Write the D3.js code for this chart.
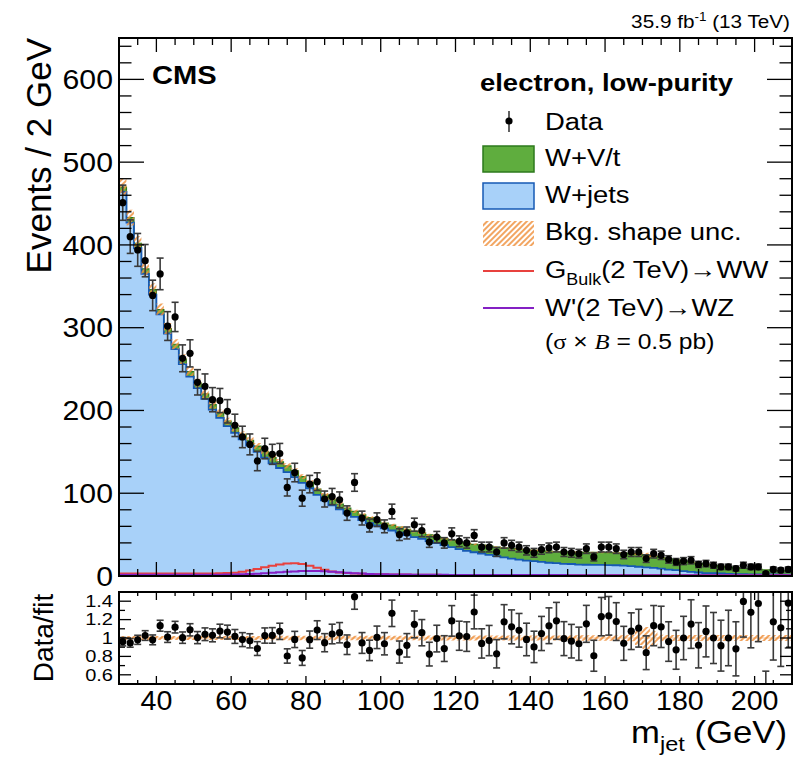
<!DOCTYPE html>
<html>
<head>
<meta charset="utf-8">
<script src="https://cdn.jsdelivr.net/npm/d3@7"></script>
<style>
  body { margin: 0; background: #fff; }
  svg text { font-family: "Liberation Sans", Arial, Helvetica, sans-serif; fill: #000; }
</style>
</head>
<body>
<svg id="chart" width="798" height="766"></svg>
<script>
// ---- binning: m_jet from 30 to 210 GeV in 2 GeV bins ----
const binEdges = d3.range(30, 211, 2);          // 91 edges, 90 bins
const binCenters = binEdges.slice(0, -1).map(e => e + 1);

// ---- observed events per bin ----
const dataCounts = [
  451, 410, 394, 381, 339, 365, 302, 313, 263, 269,
  234, 229, 213, 212, 199, 182, 168, 159, 139, 154,
  147, 148, 107, 125, 94, 111, 114, 93, 96, 92,
  76, 113, 70, 61, 68, 60, 78, 50, 52, 62,
  55, 41, 47, 40, 51, 42, 40, 49, 35, 35,
  29, 40, 37, 35, 31, 28, 32, 34, 35, 29,
  28, 27, 33, 23, 35, 35, 33, 26, 29, 29,
  21, 27, 25, 20, 17, 18, 19, 14, 15, 13,
  11, 11, 9, 13, 11, 11, 3, 8, 7, 8
];

// ---- W+jets background ----
const wJets = [
  464, 427, 396, 365, 340, 316, 293, 274, 256, 241,
  227, 214, 201, 191, 181, 173, 165, 157.5, 150, 143,
  136, 130.5, 125.5, 119.5, 112.5, 106, 98, 91.5, 85.5, 80.5,
  75.5, 71.5, 67.5, 64, 61, 57.5, 55, 52.5, 49.5, 47,
  45, 42.2, 39.8, 37.2, 35, 32.5, 30.4, 28.7, 27.2, 25.5,
  24, 22.5, 21, 19.8, 18.5, 18, 17, 16, 15.5, 14.7,
  14.5, 13.8, 13.6, 13.5, 13.4, 13.2, 13, 12.6, 12, 11.2,
  10.5, 9.8, 8.8, 7.8, 7, 6, 5, 4.2, 3.5, 3.5,
  3, 2.5, 2.2, 2.1, 2, 2, 1.9, 1.8, 1.7, 1.5
];

// ---- W+V/t background (stacked on W+jets) ----
const wVt = [
  6, 6, 6, 6, 6, 6, 6, 6, 6, 6,
  6, 6, 6, 6, 6, 6, 6, 6.5, 7, 7,
  7, 7.5, 7.5, 7.5, 7.5, 7, 7, 6.5, 6.5, 6.5,
  6.5, 6.5, 6.5, 6.5, 6.5, 6.5, 6.5, 6.5, 7, 7,
  7, 7.5, 7.5, 8, 8, 8.5, 9, 9.5, 10, 10.5,
  11, 11.5, 12, 12.5, 13, 13, 13.5, 14, 14, 14.5,
  14.5, 15, 15, 15, 15, 15, 15, 15, 15, 15,
  14.5, 14, 13.5, 13, 12.5, 12, 11.5, 11, 10.5, 9.5,
  9, 8.5, 8, 7.2, 6.6, 6, 5.5, 5, 4.6, 4.3
];

// ---- relative background shape uncertainty ----
const bkgUnc = [
  0.022, 0.022, 0.022, 0.022, 0.022, 0.022, 0.022, 0.022, 0.022, 0.022,
  0.023, 0.023, 0.023, 0.023, 0.023, 0.023, 0.023, 0.023, 0.023, 0.023,
  0.024, 0.024, 0.024, 0.024, 0.024, 0.024, 0.024, 0.024, 0.024, 0.024,
  0.025, 0.025, 0.025, 0.025, 0.025, 0.025, 0.025, 0.025, 0.025, 0.025,
  0.027, 0.027, 0.027, 0.027, 0.027, 0.027, 0.027, 0.027, 0.027, 0.027,
  0.028, 0.028, 0.028, 0.028, 0.028, 0.028, 0.028, 0.028, 0.028, 0.028,
  0.03, 0.03, 0.03, 0.03, 0.03, 0.03, 0.03, 0.03, 0.035, 0.075,
  0.12, 0.075, 0.035, 0.032, 0.032, 0.032, 0.032, 0.032, 0.032, 0.032,
  0.032, 0.032, 0.032, 0.032, 0.032, 0.032, 0.032, 0.032, 0.032, 0.032
];

// ---- signal templates (sigma x B = 0.5 pb) ----
const gBulkWW = [
  3, 3, 3, 3, 3, 3, 3, 3, 3, 3,
  3, 3, 3, 3.2, 3.5, 4, 5, 6.5, 8.5, 10.5,
  12.5, 14, 15.2, 15.5, 14.5, 12.5, 10, 7.5, 5.5, 4.2,
  3.5, 3, 2.6, 2.3, 2.1, 2, 1.9, 1.8, 1.7, 1.6,
  1.5, 1.4, 1.4, 1.3, 1.3, 1.2, 1.2, 1.2, 1.1, 1.1,
  1.1, 1.1, 1, 1, 1, 1, 1, 1, 1, 1,
  0.9, 0.9, 0.9, 0.9, 0.9, 0.9, 0.9, 0.9, 0.9, 0.9,
  0.9, 0.9, 0.8, 0.8, 0.8, 0.8, 0.8, 0.8, 0.8, 0.8,
  0.8, 0.8, 0.8, 0.8, 0.8, 0.8, 0.8, 0.8, 0.8, 0.8
];
const wprimeWZ = [
  1.5, 1.5, 1.5, 1.5, 1.5, 1.5, 1.5, 1.5, 1.5, 1.5,
  1.5, 1.5, 1.5, 1.6, 1.7, 1.9, 2.1, 2.4, 2.8, 3.3,
  3.8, 4.4, 5, 5.5, 5.9, 6, 5.9, 5.6, 5.2, 4.6,
  4, 3.4, 2.9, 2.5, 2.2, 2, 1.9, 1.8, 1.7, 1.6,
  1.5, 1.5, 1.4, 1.4, 1.3, 1.3, 1.3, 1.2, 1.2, 1.2,
  1.1, 1.1, 1.1, 1.1, 1.1, 1.1, 1.1, 1.1, 1.1, 1.1,
  1, 1, 1, 1, 1, 1, 1, 1, 1, 1,
  1, 1, 1, 1, 0.9, 0.9, 0.9, 0.9, 0.9, 0.9,
  0.9, 0.9, 0.9, 0.9, 0.8, 0.8, 0.8, 0.8, 0.8, 0.8
];

// ---- axis ticks ----
const xTickLabels = [40, 60, 80, 100, 120, 140, 160, 180, 200];
const yTickLabels = [0, 100, 200, 300, 400, 500, 600];
const ratioTickLabels = [0.6, 0.8, 1, 1.2, 1.4];

// ---- derived per-bin quantities ----
const bins = binCenters.map((c, i) => {
  const total = wJets[i] + wVt[i];
  return {
    lo: binEdges[i], hi: binEdges[i + 1], c,
    n: dataCounts[i], wj: wJets[i], tot: total, unc: bkgUnc[i],
    g: gBulkWW[i], w: wprimeWZ[i],
    ratio: dataCounts[i] / total,
    ratioErr: Math.sqrt(dataCounts[i]) / total
  };
});
// step-curve helper: repeat last bin at the upper edge
const stepPts = bins.concat([Object.assign({}, bins[bins.length - 1], { lo: 210 })]);

// ---- layout ----
const SX = 1.12; // horizontal text scale
const svg = d3.select("#chart");
const L = 119, R = 792, mainTop = 38, mainBot = 576, ratTop = 592, ratBot = 684;

const x = d3.scaleLinear().domain([30, 210]).range([L, R]);
const y = d3.scaleLinear().domain([0, 650]).range([mainBot, mainTop]);
const yr = d3.scaleLinear().domain([0.5, 1.5]).range([ratBot, ratTop]);

const defs = svg.append("defs");
const hatch = defs.append("pattern").attr("id", "hatch")
  .attr("patternUnits", "userSpaceOnUse").attr("width", 4).attr("height", 4)
  .attr("patternTransform", "rotate(45)");
hatch.append("line").attr("x1", 1).attr("y1", 0).attr("x2", 1).attr("y2", 4)
  .attr("stroke", "#ef8f3a").attr("stroke-width", 1.6);
defs.append("clipPath").attr("id", "clipMain").append("rect")
  .attr("x", L).attr("y", mainTop).attr("width", R - L).attr("height", mainBot - mainTop);
defs.append("clipPath").attr("id", "clipRatio").append("rect")
  .attr("x", L).attr("y", ratTop).attr("width", R - L).attr("height", ratBot - ratTop);

function addText(g, px, py, size, anchor, weight, sx) {
  return g.append("text")
    .attr("transform", `translate(${px},${py}) scale(${sx || SX},1)`)
    .attr("font-size", size)
    .attr("text-anchor", anchor || "start")
    .attr("font-weight", weight || "normal");
}

// ================= main panel =================
const main = svg.append("g").attr("clip-path", "url(#clipMain)");

const areaWJ = d3.area().curve(d3.curveStepAfter)
  .x(d => x(d.lo)).y0(y(0)).y1(d => y(d.wj));
const areaTot = d3.area().curve(d3.curveStepAfter)
  .x(d => x(d.lo)).y0(d => y(d.wj)).y1(d => y(d.tot));
const lineWJ = d3.line().curve(d3.curveStepAfter).x(d => x(d.lo)).y(d => y(d.wj));
const lineTot = d3.line().curve(d3.curveStepAfter).x(d => x(d.lo)).y(d => y(d.tot));

main.append("path").attr("d", areaWJ(stepPts)).attr("fill", "#a8d1f9");
main.append("path").attr("d", areaTot(stepPts)).attr("fill", "#5fad3e");
main.append("path").attr("d", lineTot(stepPts)).attr("fill", "none")
  .attr("stroke", "#2d7a1c").attr("stroke-width", 1.2);
main.append("path").attr("d", lineWJ(stepPts)).attr("fill", "none")
  .attr("stroke", "#1659b4").attr("stroke-width", 1.8);

// background shape uncertainty band
const uncArea = d3.area().curve(d3.curveStepAfter)
  .x(d => x(d.lo)).y0(d => y(d.tot * (1 - d.unc))).y1(d => y(d.tot * (1 + d.unc)));
main.append("path").attr("d", uncArea(stepPts)).attr("fill", "url(#hatch)");

// signals
const sigLine = key => d3.line().curve(d3.curveStepAfter).x(d => x(d.lo)).y(d => y(d[key]));
main.append("path").attr("d", sigLine("g")(stepPts)).attr("fill", "none")
  .attr("stroke", "#e8413e").attr("stroke-width", 2);
main.append("path").attr("d", sigLine("w")(stepPts)).attr("fill", "none")
  .attr("stroke", "#8420c4").attr("stroke-width", 2);

// data points with Poisson errors
const dataG = main.append("g");
bins.forEach(d => {
  const e = Math.sqrt(d.n);
  const cx = x(d.c);
  dataG.append("line").attr("x1", cx).attr("x2", cx)
    .attr("y1", y(d.n + e)).attr("y2", y(Math.max(d.n - e, 0)))
    .attr("stroke", "#3a3a3a").attr("stroke-width", 1.6);
  [d.n + e, Math.max(d.n - e, 0)].forEach(v => {
    dataG.append("line").attr("x1", cx - 3.5).attr("x2", cx + 3.5)
      .attr("y1", y(v)).attr("y2", y(v))
      .attr("stroke", "#3a3a3a").attr("stroke-width", 1.6);
  });
  dataG.append("circle").attr("cx", cx).attr("cy", y(d.n)).attr("r", 3.6).attr("fill", "#000");
});

// ================= ratio panel =================
const rat = svg.append("g").attr("clip-path", "url(#clipRatio)");
const ratioBand = d3.area().curve(d3.curveStepAfter)
  .x(d => x(d.lo)).y0(d => yr(1 - d.unc)).y1(d => yr(1 + d.unc));
rat.append("path").attr("d", ratioBand(stepPts)).attr("fill", "url(#hatch)");
rat.append("line").attr("x1", L).attr("x2", R).attr("y1", yr(1)).attr("y2", yr(1))
  .attr("stroke", "#ef8f3a").attr("stroke-width", 0.8).attr("stroke-opacity", 0.7);

bins.forEach(d => {
  const cx = x(d.c);
  const hi = d.ratio + d.ratioErr, lo = d.ratio - d.ratioErr;
  rat.append("line").attr("x1", cx).attr("x2", cx)
    .attr("y1", yr(hi)).attr("y2", yr(lo))
    .attr("stroke", "#3a3a3a").attr("stroke-width", 1.6);
  [hi, lo].forEach(v => {
    rat.append("line").attr("x1", cx - 3.5).attr("x2", cx + 3.5)
      .attr("y1", yr(v)).attr("y2", yr(v))
      .attr("stroke", "#3a3a3a").attr("stroke-width", 1.6);
  });
  rat.append("circle").attr("cx", cx).attr("cy", yr(d.ratio)).attr("r", 3.6).attr("fill", "#000");
});

// ================= frames and ticks =================
const axes = svg.append("g").attr("stroke", "#000").attr("fill", "none");
function frame(top, bot) {
  axes.append("rect").attr("x", L).attr("y", top).attr("width", R - L).attr("height", bot - top)
    .attr("stroke-width", 2);
}
frame(mainTop, mainBot);
frame(ratTop, ratBot);

function xTicks(top, bot, majLen, minLen) {
  d3.range(30, 211, 5).forEach(v => {
    const major = v % 20 === 0;
    const len = major ? majLen : minLen;
    const px = x(v);
    axes.append("line").attr("x1", px).attr("x2", px).attr("y1", bot).attr("y2", bot - len).attr("stroke-width", 1.3);
    axes.append("line").attr("x1", px).attr("x2", px).attr("y1", top).attr("y2", top + len).attr("stroke-width", 1.3);
  });
}
xTicks(mainTop, mainBot, 14, 7);
xTicks(ratTop, ratBot, 8, 4);

function yTicks(scale, values, isMajor, majLen, minLen) {
  values.forEach(v => {
    const len = isMajor(v) ? majLen : minLen;
    const py = scale(v);
    axes.append("line").attr("x1", L).attr("x2", L + len).attr("y1", py).attr("y2", py).attr("stroke-width", 1.3);
    axes.append("line").attr("x1", R).attr("x2", R - len).attr("y1", py).attr("y2", py).attr("stroke-width", 1.3);
  });
}
yTicks(y, d3.range(0, 641, 20), v => v % 100 === 0, 25, 12.5);
yTicks(yr, d3.range(6, 15).map(v => v / 10), v => Math.round(v * 10) % 2 === 0, 12, 6);

// ================= labels =================
const txt = svg.append("g");
yTickLabels.forEach(v => addText(txt, 113, y(v) + 9.6, 27, "end").text(v));
ratioTickLabels.forEach(v => addText(txt, 113, yr(v) + 5.8, 16, "end", "normal", 1.25).text(v));
xTickLabels.forEach(v => addText(txt, x(v), 710, 27, "middle", "normal", 1.06).text(v));

txt.append("text").attr("transform", "translate(51,38) rotate(-90)")
  .attr("font-size", 35).attr("text-anchor", "end").text("Events / 2 GeV");
txt.append("text").attr("transform", `translate(53,${(ratTop + ratBot) / 2}) rotate(-90)`)
  .attr("font-size", 28).attr("text-anchor", "middle").text("Data/fit");

const xt = addText(txt, 787, 743, 31, "end");
xt.append("tspan").text("m");
xt.append("tspan").attr("font-size", 21).attr("dy", 8).text("jet");
xt.append("tspan").attr("dy", -8).text(" (GeV)");

const lumi = addText(txt, 790, 28, 18.5, "end");
lumi.append("tspan").text("35.9 fb");
lumi.append("tspan").attr("font-size", 12).attr("dy", -7).text("-1");
lumi.append("tspan").attr("dy", 7).text(" (13 TeV)");

addText(txt, 152, 84, 26, "start", "bold").text("CMS");

// ================= legend =================
const leg = svg.append("g");
addText(leg, 480, 91, 24.5, "start", "bold").text("electron, low-purity");

// Data
leg.append("line").attr("x1", 509).attr("x2", 509).attr("y1", 111).attr("y2", 132)
  .attr("stroke", "#3a3a3a").attr("stroke-width", 1.6);
leg.append("circle").attr("cx", 509).attr("cy", 121).attr("r", 3.6).attr("fill", "#000");
addText(leg, 545, 130, 24.5).text("Data");

// W+V/t
leg.append("rect").attr("x", 483).attr("y", 146).attr("width", 51).attr("height", 26)
  .attr("fill", "#5fad3e").attr("stroke", "#2d7a1c").attr("stroke-width", 1.5);
addText(leg, 545, 166, 24.5).text("W+V/t");

// W+jets
leg.append("rect").attr("x", 483).attr("y", 183).attr("width", 51).attr("height", 26)
  .attr("fill", "#a8d1f9").attr("stroke", "#1659b4").attr("stroke-width", 1.5);
addText(leg, 545, 203, 24.5).text("W+jets");

// uncertainty
leg.append("rect").attr("x", 483).attr("y", 221).attr("width", 51).attr("height", 25)
  .attr("fill", "url(#hatch)");
addText(leg, 545, 240, 24.5).text("Bkg. shape unc.");

// signals
leg.append("line").attr("x1", 483).attr("x2", 534).attr("y1", 271).attr("y2", 271)
  .attr("stroke", "#e8413e").attr("stroke-width", 2);
const gl = addText(leg, 545, 278, 24.5);
gl.append("tspan").text("G");
gl.append("tspan").attr("font-size", 16).attr("dy", 7).text("Bulk");
gl.append("tspan").attr("dy", -7).text("(2 TeV)\u2192WW");

leg.append("line").attr("x1", 483).attr("x2", 534).attr("y1", 308).attr("y2", 308)
  .attr("stroke", "#8420c4").attr("stroke-width", 2);
addText(leg, 545, 316, 24.5).text("W'(2 TeV)\u2192WZ");

const xs = addText(leg, 545, 349, 22);
xs.append("tspan").text("(");
xs.append("tspan").attr("font-family", "Liberation Serif, Times New Roman, serif").text("\u03c3");
xs.append("tspan").text(" \u00d7 ");
xs.append("tspan").attr("font-family", "Liberation Serif, Times New Roman, serif").attr("font-style", "italic").text("B");
xs.append("tspan").text(" = 0.5 pb)");
</script>
</body>
</html>
